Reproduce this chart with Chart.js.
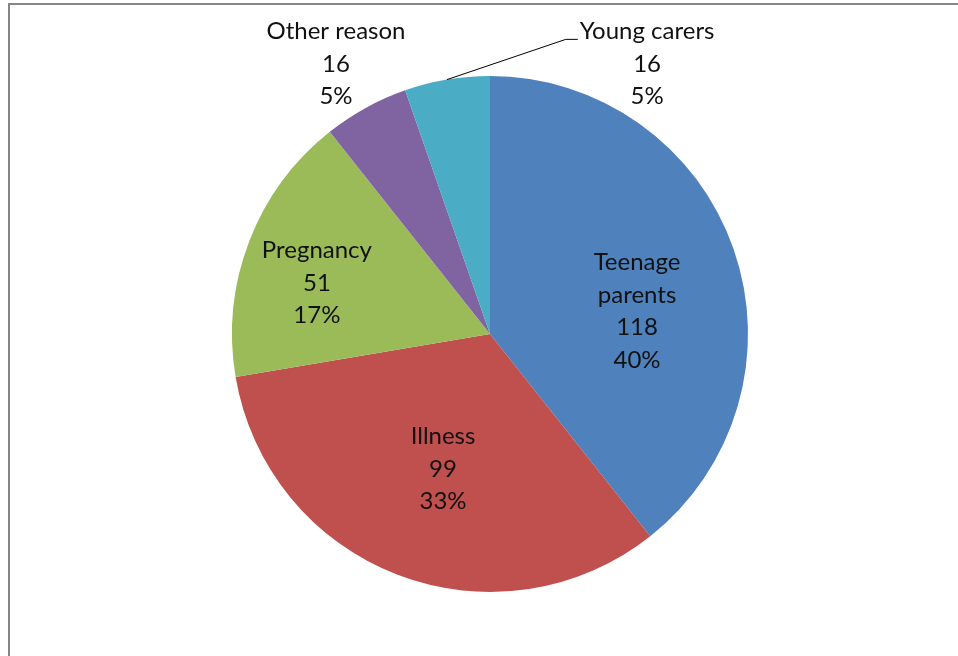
<!DOCTYPE html>
<html>
<head>
<meta charset="utf-8">
<script src="https://cdn.jsdelivr.net/npm/chart.js@4"></script>
<style>
    html, body { margin: 0; padding: 0; background: #fff; }
    #wrap { width: 958px; height: 656px; position: relative; }
</style>
</head>
<body>
<div id="wrap"><canvas id="reasonChart"></canvas></div>
<script>
// Reasons and counts
const reasons = ['Teenage parents', 'Illness', 'Pregnancy', 'Other reason', 'Young carers'];
const counts = [118, 99, 51, 16, 16];
const percents = ['40%', '33%', '17%', '5%', '5%'];
const sliceColors = ['#4F81BD', '#C0504D', '#9BBB59', '#8064A2', '#4BACC6'];

// label block centre, as a fraction of the radius from the pie centre
const labelSpots = [
    [0.570, -0.089],
    [-0.182, 0.523],
    [-0.671, -0.198],
    [-0.597, -1.047],
    [0.609, -1.047],
];
const labelLines = [
    ['Teenage', 'parents'],
    ['Illness'],
    ['Pregnancy'],
    ['Other reason'],
    ['Young carers'],
];
const LINE_H = 32.5;
const FONT = '24px Lato, "Noto Sans", sans-serif';

const frame = {
    id: 'frame',
    beforeDraw(chart) {
        const ctx = chart.ctx;
        ctx.save();
        ctx.strokeStyle = '#868686';
        ctx.lineWidth = 2;
        ctx.beginPath();
        ctx.moveTo(9, 700);
        ctx.lineTo(9, 4);
        ctx.lineTo(1000, 4);
        ctx.stroke();
        ctx.restore();
    }
};

const sliceLabels = {
    id: 'sliceLabels',
    afterDatasetsDraw(chart) {
        const ctx = chart.ctx;
        const arcs = chart.getDatasetMeta(0).data;
        const cx = arcs[0].x, cy = arcs[0].y, r = arcs[0].outerRadius;

        ctx.save();
        ctx.font = FONT;
        ctx.fillStyle = '#111';
        ctx.textAlign = 'center';
        ctx.textBaseline = 'middle';

        arcs.forEach((arc, i) => {
            const lines = [...labelLines[i], String(counts[i]), percents[i]];
            const x = cx + labelSpots[i][0] * r;
            const y0 = cy + labelSpots[i][1] * r - (lines.length - 1) * LINE_H / 2;
            lines.forEach((t, k) => ctx.fillText(t, x, y0 + k * LINE_H));
        });

        // leader line for the small teal slice
        const yc = arcs[4];
        const mid = (yc.startAngle + yc.endAngle) / 2;
        const px = cx + Math.cos(mid) * r;
        const py = cy + Math.sin(mid) * r;
        const topY = cy + labelSpots[4][1] * r - LINE_H;
        const textLeft = cx + labelSpots[4][0] * r - ctx.measureText(labelLines[4][0]).width / 2;
        ctx.strokeStyle = '#000';
        ctx.lineWidth = 1;
        ctx.beginPath();
        ctx.moveTo(px, py);
        ctx.lineTo(textLeft - 14, topY + 8);
        ctx.lineTo(textLeft - 2, topY + 8);
        ctx.stroke();
        ctx.restore();
    }
};

new Chart(document.getElementById('reasonChart'), {
    type: 'pie',
    data: {
        labels: reasons,
        datasets: [{
            data: counts,
            backgroundColor: sliceColors,
            borderWidth: 0,
        }]
    },
    options: {
        responsive: true,
        maintainAspectRatio: false,
        animation: false,
        layout: { padding: { left: 232, right: 210, top: 76, bottom: 64 } },
        plugins: {
            legend: { display: false },
            tooltip: { enabled: false },
        }
    },
    plugins: [frame, sliceLabels]
});
</script>
</body>
</html>
